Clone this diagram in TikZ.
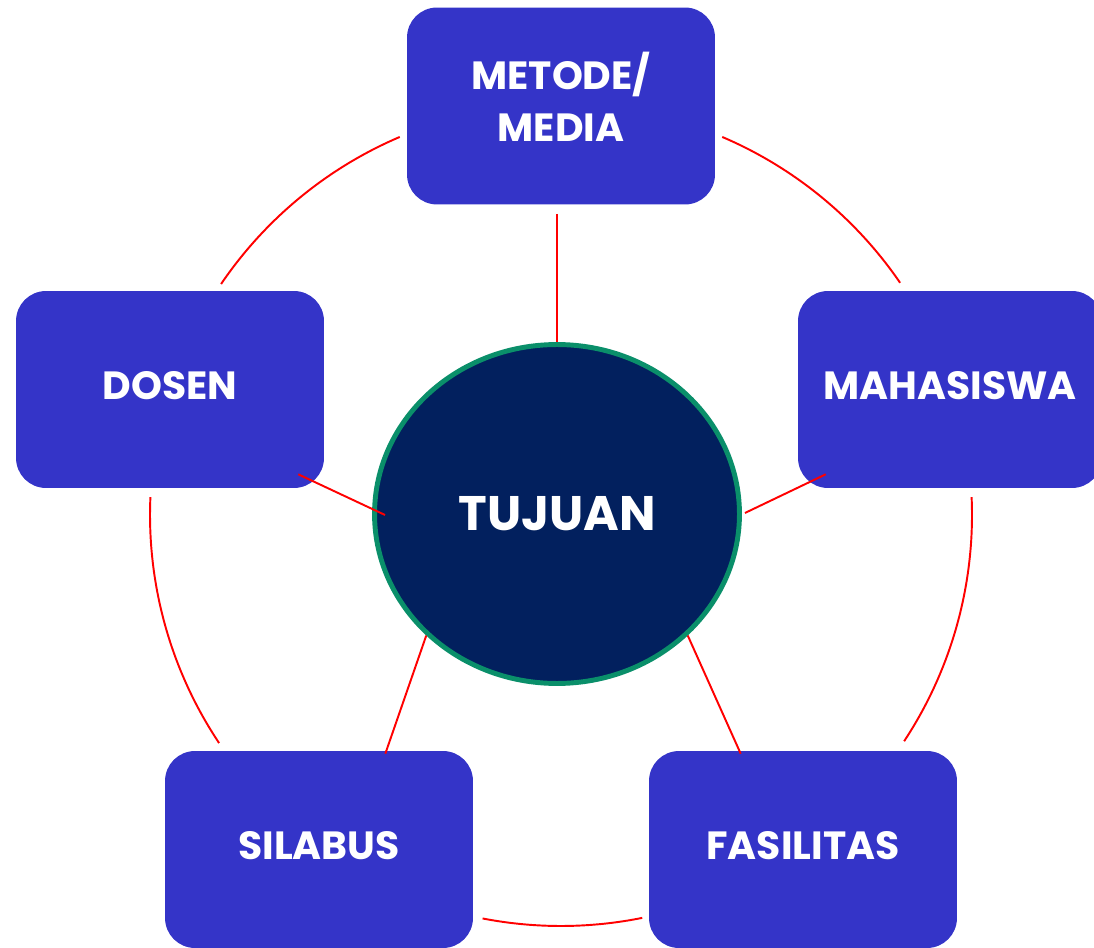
\documentclass[tikz,border=0pt]{standalone}
\usepackage{fontspec}
\setmainfont{Poppins}
\usepackage{tikz}
\usetikzlibrary{shapes.geometric, calc}
\usepackage{xcolor}
\definecolor{boxblue}{RGB}{52,52,200}
\definecolor{hubnavy}{RGB}{2,32,94}
\definecolor{hubgreen}{RGB}{10,143,106}

\begin{document}
\begin{tikzpicture}[
        x=0.02cm, y=0.02cm,
        box/.style={rectangle, fill=boxblue, rounded corners=0.6cm, minimum width=6.16cm, minimum height=3.94cm, text depth=0.16cm, align=center, text=white, font=\fontsize{22.4}{29.5}\selectfont\bfseries},
        hub/.style={ellipse, draw=hubgreen, line width=2.8pt, fill=hubnavy, inner sep=0pt, minimum width=7.3cm, minimum height=6.78cm, text=white, font=\fontsize{27.6}{32}\selectfont\bfseries},
        spoke/.style={draw=red, line width=1.1pt},
        ring/.style={draw=red, line width=1.1pt}
    ]
        \useasboundingbox (0,0) rectangle (1094,947);
        \coordinate (ctr) at (561,432);
        % ring between the boxes
        \draw[ring] ([shift={(113.1:411)}]ctr) arc[start angle=113.1, end angle=145.8, radius=411];
        \draw[ring] ([shift={(34.4:411)}]ctr) arc[start angle=34.4, end angle=66.9, radius=411];
        \draw[ring] ([shift={(177.5:411)}]ctr) arc[start angle=177.5, end angle=213.7, radius=411];
        \draw[ring] ([shift={(-33.4:411)}]ctr) arc[start angle=-33.4, end angle=2.5, radius=411];
        \draw[ring] ([shift={(259:411)}]ctr) arc[start angle=259, end angle=281.4, radius=411];
        \node[box, text depth=0.36cm] (metode) at (561,841) {METODE/\\MEDIA};
        \node[box] (dosen) at (170,557.5) {DOSEN};
        \node[box, minimum width=6.08cm] (mahasiswa) at (950,557.5) {MAHASISWA};
        \node[box] (silabus) at (319,97.5) {SILABUS};
        \node[box] (fasilitas) at (803,97.5) {FASILITAS};
        \node[hub] (tujuan) at (557,433) {TUJUAN};
        \draw[spoke] ([shift={(-4,-9)}]metode.south) -- (tujuan.north);
        \draw[spoke] ([shift={(-26,14)}]dosen.south east) -- ([shift={(13,-1)}]tujuan.west);
        \draw[spoke] ([shift={(28,14)}]mahasiswa.south west) -- ([shift={(3,1)}]tujuan.east);
        \draw[spoke] ([shift={(-88,-3)}]silabus.north east) -- (tujuan.south west);
        \draw[spoke] ([shift={(92,-3)}]fasilitas.north west) -- (tujuan.south east);
    \end{tikzpicture}
\end{document}
